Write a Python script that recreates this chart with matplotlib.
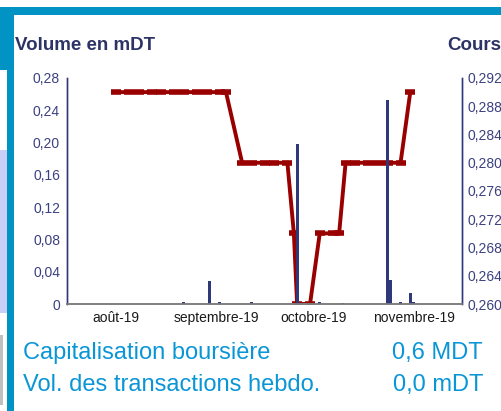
import numpy as np
import pandas as pd
import matplotlib
matplotlib.use("Agg")
import matplotlib.pyplot as plt
from matplotlib.patches import Rectangle

plt.rcParams['font.family'] = ['Liberation Sans', 'DejaVu Sans']

# cours (DT)
price_dates = pd.to_datetime([
    '2019-08-01', '2019-08-05', '2019-08-08', '2019-08-12', '2019-08-15',
    '2019-08-19', '2019-08-22', '2019-08-26', '2019-08-29', '2019-09-02',
    '2019-09-04', '2019-09-09', '2019-09-12', '2019-09-16', '2019-09-19',
    '2019-09-23', '2019-09-25', '2019-09-26', '2019-09-30', '2019-10-03',
    '2019-10-07', '2019-10-09', '2019-10-11', '2019-10-14', '2019-10-18',
    '2019-10-21', '2019-10-24', '2019-10-28', '2019-10-31'])
price_values = [0.290, 0.290, 0.290, 0.290, 0.290,
                0.290, 0.290, 0.290, 0.290, 0.290,
                0.290, 0.280, 0.280, 0.280, 0.280,
                0.280, 0.270, 0.260, 0.260, 0.270,
                0.270, 0.270, 0.280, 0.280, 0.280,
                0.280, 0.280, 0.280, 0.290]

# volume (mDT)
vol_dates = pd.to_datetime([
    '2019-08-22', '2019-08-30', '2019-09-02', '2019-09-12', '2019-09-26',
    '2019-10-03', '2019-10-10', '2019-10-24', '2019-10-25', '2019-10-28',
    '2019-10-31', '2019-11-01'])
vol_values = [0.002, 0.028, 0.003, 0.003, 0.198,
              0.002, 0.001, 0.253, 0.030, 0.002,
              0.014, 0.003]

month_ticks = pd.to_datetime(['2019-08-01', '2019-09-01', '2019-10-01', '2019-11-01'])
month_labels = ['août-19', 'septembre-19', 'octobre-19', 'novembre-19']
vol_ticks = [0, 0.04, 0.08, 0.12, 0.16, 0.20, 0.24, 0.28]
vol_labels = ['0', '0,04', '0,08', '0,12', '0,16', '0,20', '0,24', '0,28']
price_ticks = [0.260, 0.264, 0.268, 0.272, 0.276, 0.280, 0.284, 0.288, 0.292]
price_labels = ['0,260', '0,264', '0,268', '0,272', '0,276', '0,280', '0,284', '0,288', '0,292']

W, H = 501, 411
fig = plt.figure(figsize=(W / 100, H / 100), dpi=100)

teal = '#0093c4'
navy = '#2f3878'
tick_col = '#3b4180'
red = '#990000'

# frame decorations
def px_rect(x0, y0, x1, y1, color):
    fig.patches.append(Rectangle((x0 / W, 1 - y1 / H), (x1 - x0) / W, (y1 - y0) / H,
                                 transform=fig.transFigure, color=color, lw=0, zorder=0))

px_rect(0, 7, W, 15, teal)
px_rect(0, 7, 14, 70, teal)
px_rect(7, 7, 14, H, teal)
px_rect(0, 150, 7, 313, '#c8d0f8')
px_rect(0, 335, 3, 405, '#c0c0c0')

ax = fig.add_axes([67 / W, 1 - 304 / H, (462 - 67) / W, (304 - 78) / H])
ax2 = ax.twinx()

ax2.plot(price_dates, price_values, color=red, lw=2.8, marker='_', ms=7.5, mew=4.0,
         solid_joinstyle='miter')
ax.bar(vol_dates, vol_values, width=0.9, color=navy, align='center')

ax.set_zorder(ax2.get_zorder() + 1)
ax.patch.set_visible(False)

xmin, xmax = pd.Timestamp('2019-07-16 20:00'), pd.Timestamp('2019-11-16')
ax.set_xlim(xmin, xmax)
ax.set_ylim(0, 0.28)
ax2.set_ylim(0.260, 0.292)

ax.set_xticks(month_ticks)
ax.set_xticklabels(month_labels, fontsize=10, color='#1a1a1a')
ax.set_yticks(vol_ticks)
ax.set_yticklabels(vol_labels, fontsize=10, color=tick_col)
ax2.set_yticks(price_ticks)
ax2.set_yticklabels(price_labels, fontsize=10, color=tick_col)

ax.tick_params(axis='both', length=0, pad=5)
ax2.tick_params(axis='y', length=0, pad=4)

for a in (ax, ax2):
    a.spines['top'].set_visible(False)
    a.spines['left'].set_color(navy)
    a.spines['right'].set_color(navy)
    a.spines['bottom'].set_color('#7f7f7f')
    a.spines['left'].set_linewidth(1)
    a.spines['right'].set_linewidth(1)
    a.spines['bottom'].set_linewidth(1.2)

fig.text(15 / W, 1 - 45 / H, 'Volume en mDT', fontsize=13.5, fontweight='bold',
         color='#2e3366', va='center', ha='left')
fig.text(447 / W, 1 - 45 / H, 'Cours', fontsize=13.5, fontweight='bold',
         color='#2e3366', va='center', ha='left')

info_col = '#0a96d6'
fig.text(23 / W, 1 - 359 / H, 'Capitalisation boursière', fontsize=17,
         color=info_col, va='baseline', ha='left')
fig.text(483 / W, 1 - 359 / H, '0,6 MDT', fontsize=17,
         color=info_col, va='baseline', ha='right')
fig.text(23 / W, 1 - 391 / H, 'Vol. des transactions hebdo.', fontsize=17,
         color=info_col, va='baseline', ha='left')
fig.text(483 / W, 1 - 391 / H, '0,0 mDT', fontsize=17,
         color=info_col, va='baseline', ha='right')

fig.savefig('out.png', dpi=100)
